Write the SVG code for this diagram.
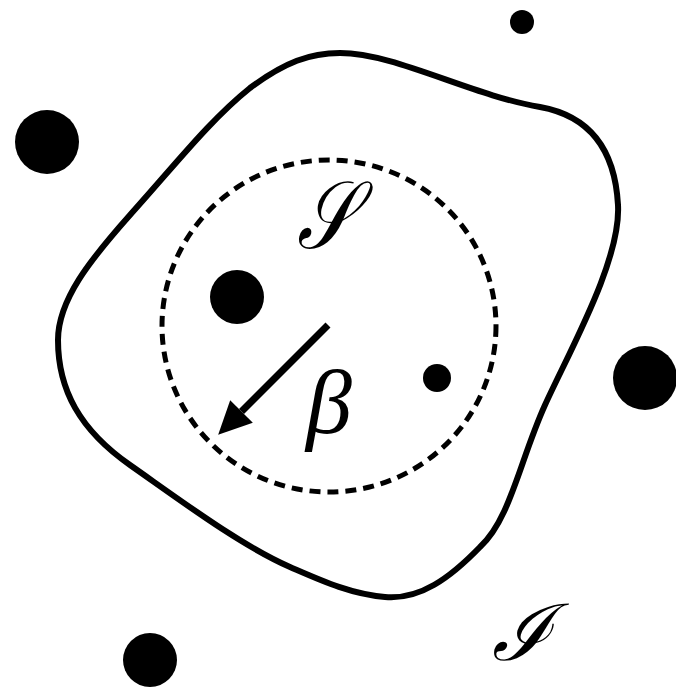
<svg xmlns="http://www.w3.org/2000/svg" width="676" height="687" viewBox="0 0 676 687">
<style>
.dot{fill:#000}
.lbl{font-family:"Liberation Serif","DejaVu Serif",serif;font-style:italic;fill:#000}
</style>
<defs>
<marker id="ah" markerUnits="userSpaceOnUse" markerWidth="34" markerHeight="32" refX="0" refY="16" orient="auto" overflow="visible">
<path d="M0,0 L33,16 L0,32 Z" fill="#000"/>
</marker>
</defs>
<rect width="676" height="687" fill="#fff"/>
<g id="blob">
<path d="M340,53 C395,53 470,95 540,107 C590,116 615,150 618,205 C621,260 570,350 545,405 C520,460 510,520 480,547 C450,578 420,600 385,597 C350,594 320,580 290,567 C240,545 180,500 130,465 C80,430 58,390 58,340 C58,300 90,260 130,215 C175,165 210,120 250,88 C285,62 310,53 340,53 Z" fill="none" stroke="#000" stroke-width="6"/>
</g>
<g id="circle">
<ellipse cx="329" cy="326" rx="167" ry="166" fill="none" stroke="#000" stroke-width="5" stroke-dasharray="11 7"/>
</g>
<g id="dots">
<circle class="dot" cx="522" cy="22" r="12"/>
<circle class="dot" cx="47" cy="142" r="32"/>
<circle class="dot" cx="237" cy="297" r="27"/>
<circle class="dot" cx="437" cy="378" r="14"/>
<circle class="dot" cx="645" cy="378" r="32"/>
<circle class="dot" cx="150" cy="660" r="27"/>
</g>
<g id="connectors">
<line x1="328" y1="325" x2="241.5" y2="411.5" stroke="#000" stroke-width="7" marker-end="url(#ah)"/>
</g>
<g id="labels">
<text class="lbl" x="297" y="248" font-size="95" textLength="58" lengthAdjust="spacingAndGlyphs">𝒮</text>
<text class="lbl" x="329" y="433" font-size="92" text-anchor="middle">β</text>
<text class="lbl" x="492" y="660" font-size="78" textLength="60" lengthAdjust="spacingAndGlyphs">ℐ</text>
</g>
</svg>
